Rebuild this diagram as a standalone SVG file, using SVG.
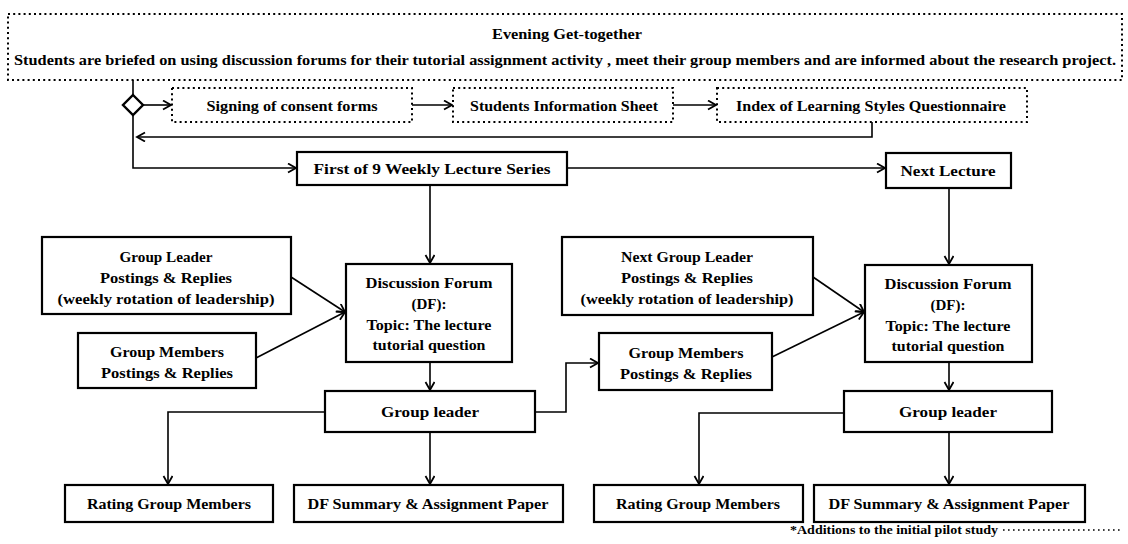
<svg xmlns="http://www.w3.org/2000/svg" width="1128" height="544" viewBox="0 0 1128 544">
<style>
text{font-family:"Liberation Serif","Times New Roman",serif;font-weight:bold;fill:#000;text-anchor:middle;font-size:15px}
.box{fill:#fff;stroke:#000;stroke-width:2.2}
.dot{fill:#fff;stroke:#000;stroke-width:2;stroke-dasharray:2 3.2}
.ln{fill:none;stroke:#000;stroke-width:1.6}
.foot{font-size:12px;text-anchor:start}
</style>
<defs>
<marker id="ar" markerWidth="12" markerHeight="12" refX="9" refY="5" orient="auto" markerUnits="userSpaceOnUse">
<path d="M1,0.5 L9,5 L1,9.5" fill="none" stroke="#000" stroke-width="1.8"/>
</marker>
</defs>
<rect width="1128" height="544" fill="#fff"/>

<g id="connectors">
<path class="ln" d="M133,80 V95"/>
<path class="ln" d="M143,105 H171" marker-end="url(#ar)"/>
<path class="ln" d="M412,105 H452" marker-end="url(#ar)"/>
<path class="ln" d="M673,105 H716" marker-end="url(#ar)"/>
<path class="ln" d="M872,122 V137 H137" marker-end="url(#ar)"/>
<path class="ln" d="M133,115 V168 H296" marker-end="url(#ar)"/>
<path class="ln" d="M567,168 H885" marker-end="url(#ar)"/>
<path class="ln" d="M430,185 V263" marker-end="url(#ar)"/>
<path class="ln" d="M949,188 V264" marker-end="url(#ar)"/>
<path class="ln" d="M291,277 L345,312" marker-end="url(#ar)"/>
<path class="ln" d="M256,358 L345,312" marker-end="url(#ar)"/>
<path class="ln" d="M813,277 L864,312" marker-end="url(#ar)"/>
<path class="ln" d="M772,357 L864,312" marker-end="url(#ar)"/>
<path class="ln" d="M430,362 V390" marker-end="url(#ar)"/>
<path class="ln" d="M949,362 V390" marker-end="url(#ar)"/>
<path class="ln" d="M535,412 H566 V363 H598" marker-end="url(#ar)"/>
<path class="ln" d="M325,412 H168 V484" marker-end="url(#ar)"/>
<path class="ln" d="M430,432 V484" marker-end="url(#ar)"/>
<path class="ln" d="M844,413 H699 V484" marker-end="url(#ar)"/>
<path class="ln" d="M949,432 V484" marker-end="url(#ar)"/>
</g>

<g id="evening">
<rect class="dot" x="8" y="14" width="1114" height="66"/>
<text x="567" y="39" textLength="150" lengthAdjust="spacingAndGlyphs">Evening Get-together</text>
<text x="565" y="65" textLength="1102" lengthAdjust="spacingAndGlyphs">Students are briefed on using discussion forums for their tutorial assignment activity , meet their group members and are informed about the research project.</text>
</g>

<g id="decision">
<path d="M133,95 L143,105 L133,115 L123,105 Z" fill="#fff" stroke="#000" stroke-width="2.4"/>
</g>

<g id="consent">
<rect class="dot" x="172" y="88" width="240" height="34"/>
<text x="292" y="111" textLength="171" lengthAdjust="spacingAndGlyphs">Signing of consent forms</text>
</g>
<g id="info">
<rect class="dot" x="453" y="88" width="220" height="34"/>
<text x="564" y="111" textLength="188" lengthAdjust="spacingAndGlyphs">Students Information Sheet</text>
</g>
<g id="index">
<rect class="dot" x="717" y="88" width="310" height="34"/>
<text x="871" y="111" textLength="270" lengthAdjust="spacingAndGlyphs">Index of Learning Styles Questionnaire</text>
</g>

<g id="first">
<rect class="box" x="297" y="152" width="270" height="33"/>
<text x="432" y="174" textLength="237" lengthAdjust="spacingAndGlyphs">First of 9 Weekly Lecture Series</text>
</g>
<g id="next">
<rect class="box" x="886" y="153" width="125" height="35"/>
<text x="948" y="176" textLength="95" lengthAdjust="spacingAndGlyphs">Next Lecture</text>
</g>

<g id="gl1">
<rect class="box" x="42" y="237" width="249" height="77"/>
<text x="166" y="262" textLength="93" lengthAdjust="spacingAndGlyphs">Group Leader</text>
<text x="166" y="283" textLength="132" lengthAdjust="spacingAndGlyphs">Postings &amp; Replies</text>
<text x="166" y="304" textLength="217" lengthAdjust="spacingAndGlyphs">(weekly rotation of leadership)</text>
</g>
<g id="gm1">
<rect class="box" x="78" y="333" width="178" height="55"/>
<text x="167" y="357" textLength="114" lengthAdjust="spacingAndGlyphs">Group Members</text>
<text x="167" y="378" textLength="132" lengthAdjust="spacingAndGlyphs">Postings &amp; Replies</text>
</g>
<g id="df1">
<rect class="box" x="346" y="264" width="166" height="98"/>
<text x="429" y="288" textLength="127" lengthAdjust="spacingAndGlyphs">Discussion Forum</text>
<text x="429" y="309" textLength="35" lengthAdjust="spacingAndGlyphs">(DF):</text>
<text x="429" y="330" textLength="125" lengthAdjust="spacingAndGlyphs">Topic: The lecture</text>
<text x="429" y="350" textLength="113" lengthAdjust="spacingAndGlyphs">tutorial question</text>
</g>

<g id="gl2">
<rect class="box" x="562" y="237" width="251" height="78"/>
<text x="687" y="262" textLength="132" lengthAdjust="spacingAndGlyphs">Next Group Leader</text>
<text x="687" y="283" textLength="132" lengthAdjust="spacingAndGlyphs">Postings &amp; Replies</text>
<text x="687" y="304" textLength="213" lengthAdjust="spacingAndGlyphs">(weekly rotation of leadership)</text>
</g>
<g id="gm2">
<rect class="box" x="599" y="333" width="173" height="57"/>
<text x="686" y="358" textLength="115" lengthAdjust="spacingAndGlyphs">Group Members</text>
<text x="686" y="379" textLength="132" lengthAdjust="spacingAndGlyphs">Postings &amp; Replies</text>
</g>
<g id="df2">
<rect class="box" x="865" y="265" width="167" height="97"/>
<text x="948" y="289" textLength="127" lengthAdjust="spacingAndGlyphs">Discussion Forum</text>
<text x="948" y="310" textLength="35" lengthAdjust="spacingAndGlyphs">(DF):</text>
<text x="948" y="331" textLength="125" lengthAdjust="spacingAndGlyphs">Topic: The lecture</text>
<text x="948" y="351" textLength="113" lengthAdjust="spacingAndGlyphs">tutorial question</text>
</g>

<g id="leader1">
<rect class="box" x="325" y="391" width="210" height="41"/>
<text x="430" y="417" textLength="98" lengthAdjust="spacingAndGlyphs">Group leader</text>
</g>
<g id="leader2">
<rect class="box" x="844" y="391" width="208" height="41"/>
<text x="948" y="417" textLength="98" lengthAdjust="spacingAndGlyphs">Group leader</text>
</g>

<g id="rating1">
<rect class="box" x="65" y="485" width="208" height="37"/>
<text x="169" y="509" textLength="164" lengthAdjust="spacingAndGlyphs">Rating Group Members</text>
</g>
<g id="summary1">
<rect class="box" x="294" y="485" width="269" height="37"/>
<text x="428" y="509" textLength="241" lengthAdjust="spacingAndGlyphs">DF Summary &amp; Assignment Paper</text>
</g>
<g id="rating2">
<rect class="box" x="594" y="485" width="209" height="37"/>
<text x="698" y="509" textLength="164" lengthAdjust="spacingAndGlyphs">Rating Group Members</text>
</g>
<g id="summary2">
<rect class="box" x="814" y="485" width="271" height="37"/>
<text x="949" y="509" textLength="241" lengthAdjust="spacingAndGlyphs">DF Summary &amp; Assignment Paper</text>
</g>

<g id="footnote">
<text class="foot" x="790" y="534" textLength="208" lengthAdjust="spacingAndGlyphs">*Additions to the initial pilot  study</text>
<path d="M1003,530 H1122" fill="none" stroke="#000" stroke-width="1.6" stroke-dasharray="1.6 3.4"/>
</g>
</svg>
